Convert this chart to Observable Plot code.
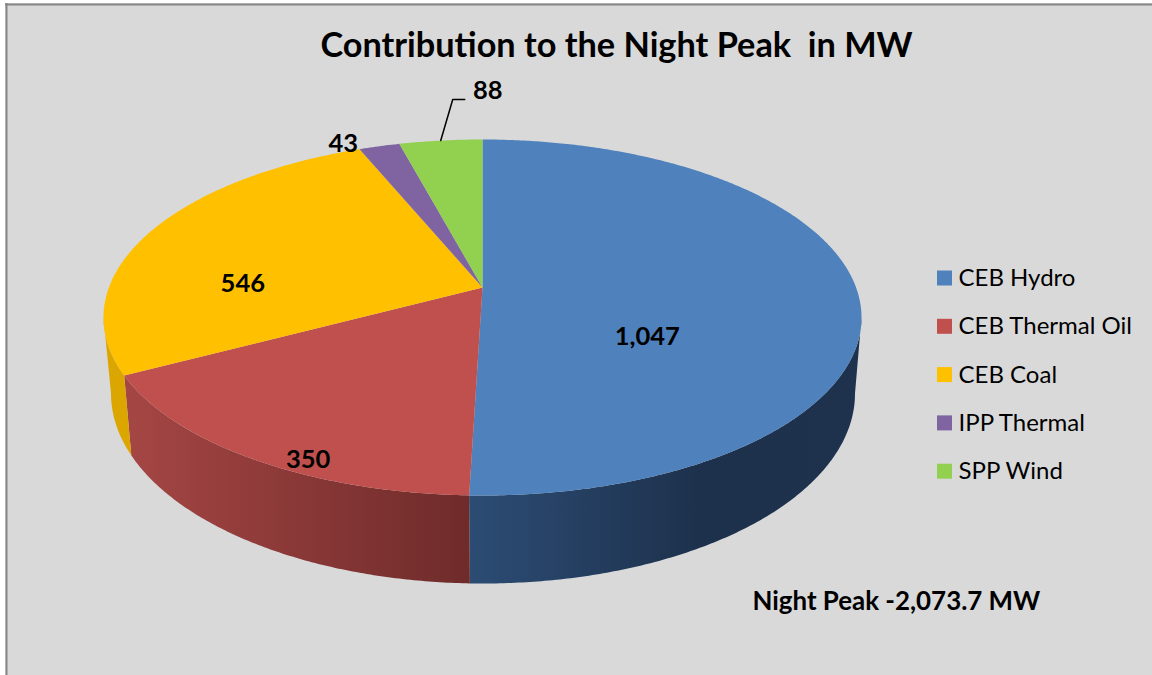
<!DOCTYPE html>
<html>
<head>
<meta charset="utf-8">
<script src="https://cdn.jsdelivr.net/npm/d3@7"></script>
<script src="https://cdn.jsdelivr.net/npm/@observablehq/plot@0.6"></script>
<style>html,body{margin:0;padding:0;background:#fff}svg{display:block}</style>
</head>
<body>
<div id="chart"></div>
<script>
// Data
const categories = ["CEB Hydro", "CEB Thermal Oil", "CEB Coal", "IPP Thermal", "SPP Wind"];
const values = [1047, 350, 546, 43, 88];
const valueLabels = ["1,047", "350", "546", "43", "88"];
const topColors = ["#4f81bd", "#c0504d", "#ffc000", "#8064a2", "#92d050"];
const titleText = "Contribution to the Night Peak  in MW";
const noteText = "Night Peak -2,073.7 MW";

// Pie geometry (a tilted pie seen in perspective)
const W = 1152, H = 675;
const apex = {x: 482, y: 287};
const topRim = {cx: 482, cy: 317, rx: 379, ry: 178};
const botRim = {cx: 482.5, cy: 393, rx: 372, ry: 190};
const squash = 2.12;
const total = d3.sum(values);
const rad = Math.PI / 180;

// Where a pie angle (clockwise from 12 o'clock) meets the top rim
function rimParam(theta) {
  const dx = squash * Math.sin(theta * rad), dy = -Math.cos(theta * rad);
  const ox = (apex.x - topRim.cx) / topRim.rx, oy = (apex.y - topRim.cy) / topRim.ry;
  const ux = dx / topRim.rx, uy = dy / topRim.ry;
  const a = ux * ux + uy * uy, b = 2 * (ox * ux + oy * uy), c = ox * ox + oy * oy - 1;
  const t = (-b + Math.sqrt(b * b - 4 * a * c)) / (2 * a);
  return Math.atan2(oy + t * uy, ox + t * ux);
}
const onTop = (p) => ({x: topRim.cx + topRim.rx * Math.cos(p), y: topRim.cy + topRim.ry * Math.sin(p)});
const onBot = (p) => ({x: botRim.cx + botRim.rx * Math.cos(p), y: botRim.cy + botRim.ry * Math.sin(p)});

// Side shading: horizontal gradients per slice
const sideStops = [
  [[470, "#2c4c74"], [700, "#1d314c"], [860, "#1e324e"]],
  [[125, "#a54644"], [470, "#6e2b2a"]],
  [[100, "#dca600"], [140, "#dca600"]],
  [[300, "#65507f"], [400, "#65507f"]],
  [[400, "#74a640"], [480, "#74a640"]]
];

// Angular extent of each slice
let cum = 0;
const slices = values.map((v, i) => {
  const start = cum / total * 360; cum += v;
  return {i, name: categories[i], start, end: cum / total * 360, mid: (start + cum / total * 360) / 2};
});

// Polygons
const topPoly = [], sidePoly = [];
const STEP = 0.5;
for (const s of slices) {
  const id = "top" + s.i, color = topColors[s.i], grad = `url(#side${s.i})`;
  topPoly.push({id, color, ...apex});
  const n = Math.max(2, Math.ceil((s.end - s.start) / STEP));
  const front = [];
  for (let k = 0; k <= n; k++) {
    const p = rimParam(s.start + (s.end - s.start) * k / n);
    topPoly.push({id, color, ...onTop(p)});
    if (Math.sin(p) >= -1e-6) front.push(p);
    else if (k > 0 && front.length && Math.sin(p) < 0 && !front.closed) {
      front.push(Math.cos(p) < 0 ? Math.PI : 0);
      front.closed = true;
    }
  }
  if (s.i === 0) front.unshift(0);
  if (front.length > 1) {
    front.forEach((p) => sidePoly.push({id: "side" + s.i, color: grad, ...onTop(p)}));
    front.slice().reverse().forEach((p) => sidePoly.push({id: "side" + s.i, color: grad, ...onBot(p)}));
  }
}

// Label placement: rim point at the slice's mid angle, scaled and nudged
const labelFrac = [0.44, 0.85, 0.63, 1, 1];
const labelNudge = [[0, 48], [20, 26], [-31, 32], [-36, -2], [47, -50]];
const labels = slices.map((s) => {
  const r = onTop(rimParam(s.mid)), f = labelFrac[s.i], [nx, ny] = labelNudge[s.i];
  return {
    text: valueLabels[s.i],
    x: apex.x + f * (r.x - apex.x) + nx,
    y: apex.y + f * (r.y - apex.y) + ny
  };
});

// Leader for the wind label
const windRim = onTop(rimParam(slices[4].mid));
const leader = [windRim, {x: windRim.x + 12, y: windRim.y - 41}, {x: windRim.x + 24, y: windRim.y - 41}];

// Legend
const legendRows = categories.map((name, i) => ({name, color: topColors[i], y: 278 + i * 48.3}));

// Gradient definitions for the side walls
const gradients = () => {
  const defs = d3.create("svg:defs");
  sideStops.forEach((stops, i) => {
    const g = defs.append("linearGradient").attr("id", "side" + i).attr("gradientUnits", "userSpaceOnUse")
      .attr("x1", stops[0][0]).attr("x2", stops[stops.length - 1][0]).attr("y1", 0).attr("y2", 0);
    const lo = stops[0][0], hi = stops[stops.length - 1][0];
    stops.forEach(([x, c]) => g.append("stop").attr("offset", (x - lo) / (hi - lo)).attr("stop-color", c));
  });
  return defs.node();
};

const font = "Lato, Carlito, Calibri, sans-serif";
const plot = Plot.plot({
  width: W, height: H,
  margin: 0,
  x: {domain: [0, W], range: [0, W], axis: null},
  y: {domain: [0, H], range: [0, H], axis: null},
  color: {type: "identity"},
  style: {background: "#fff", fontFamily: font},
  marks: [
    gradients,
    Plot.rect([{}], {x1: () => 5, x2: () => W, y1: () => 3, y2: () => H, fill: "#d9d9d9"}),
    Plot.ruleX([6], {y1: 3, y2: H, stroke: "#868686", strokeWidth: 2}),
    Plot.ruleY([4], {x1: 5, x2: W, stroke: "#868686", strokeWidth: 2}),
    Plot.line(sidePoly, {x: "x", y: "y", z: "id", fill: "color", stroke: "none", curve: "linear-closed"}),
    Plot.line(topPoly, {x: "x", y: "y", z: "id", fill: "color", stroke: "none", curve: "linear-closed"}),
    Plot.line(leader, {x: "x", y: "y", stroke: "#000", strokeWidth: 1.5}),
    Plot.text(labels, {x: "x", y: "y", text: "text", fontSize: 25.5, fontWeight: 700, fill: "#000", fontFamily: font}),
    Plot.text([titleText], {x: () => 616, y: () => 46, text: (d) => d, fontSize: 34.3, fontWeight: 700, fill: "#000", fontFamily: font}),
    Plot.text([noteText], {x: () => 752, y: () => 601, text: (d) => d, textAnchor: "start", fontSize: 25.9, fontWeight: 700, fill: "#000", fontFamily: font}),
    Plot.rect(legendRows, {x1: () => 937, x2: () => 952, y1: (d) => d.y - 7.5, y2: (d) => d.y + 7.5, fill: "color"}),
    Plot.text(legendRows, {x: () => 958, y: "y", text: "name", textAnchor: "start", fontSize: 24, fill: "#000", fontFamily: font})
  ]
});
document.getElementById("chart").append(plot);
</script>
</body>
</html>
